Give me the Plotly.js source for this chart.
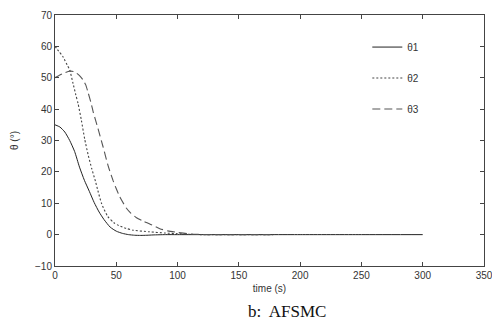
<!DOCTYPE html>
<html>
<head>
<meta charset="utf-8">
<script src="https://cdn.plot.ly/plotly-3.0.1.min.js"></script>
<style>html,body{margin:0;padding:0;background:#fff;}#chart{width:492px;height:320px;}</style>
</head>
<body>
<div id="chart"></div>
<script>
// theta1 (solid)
const t1X = [0, 4, 8, 12, 16, 20, 24, 28, 32, 36, 40, 45, 50, 55, 60, 65, 70, 75, 80, 90, 100, 150, 200, 250, 300];
const t1Y = [35, 34.3, 32.7, 30, 26.5, 21.5, 17.3, 13.8, 10.2, 7.2, 4.8, 2.4, 1.1, 0.4, 0, -0.2, -0.25, -0.2, -0.1, 0, 0, 0, 0, 0, 0];
// theta2 (dotted)
const t2X = [0, 3, 6.5, 10, 12, 14.7, 17, 18.8, 21.5, 24.2, 27, 30, 33, 35, 38, 43, 48, 52, 58, 64, 77, 90, 100, 110, 120, 178];
const t2Y = [60, 58.5, 56.7, 54, 52.5, 48.2, 44.5, 41.8, 36.5, 30.5, 25.5, 21, 17, 14, 9.9, 5.8, 3.8, 2.9, 2, 1.4, 0.9, 0.5, 0.3, 0.1, 0, 0];
// theta3 (dashed)
const t3X = [0, 4, 8, 12, 15, 17.4, 20, 22.9, 25, 27, 29.7, 31.1, 35.1, 39.2, 43.3, 47.4, 50, 52.8, 58.3, 62, 66.5, 72, 77.3, 85.5, 92, 100, 108, 115, 125, 178];
const t3Y = [50, 50.9, 51.6, 52.1, 52, 51.5, 50.7, 49.3, 47.8, 45.3, 41.5, 39.2, 33.8, 28, 22, 17.2, 14.6, 12.1, 8.4, 6.8, 5.4, 4.3, 3.4, 1.9, 1.2, 0.7, 0.3, 0.1, 0, 0];
const names = ['θ1', 'θ2', 'θ3'];
const xTicks = [0, 50, 100, 150, 200, 250, 300, 350];
const yTicks = [-10, 0, 10, 20, 30, 40, 50, 60, 70];

const traces = [
  {x: t1X, y: t1Y, name: names[0], legendgroup: 'a', mode: 'lines', line: {color: '#222', width: 1, dash: 'solid', shape: 'spline', smoothing: 0.6}},
  {x: t2X, y: t2Y, name: names[1], legendgroup: 'b', mode: 'lines', line: {color: '#444', width: 1.1, dash: '2px,2px', shape: 'spline', smoothing: 0.6}},
  {x: t3X, y: t3Y, name: names[2], legendgroup: 'c', mode: 'lines', line: {color: '#555', width: 1.1, dash: '8px,4px', shape: 'spline', smoothing: 0.6}}
];

const axisCommon = {
  showline: true, linecolor: '#444', linewidth: 1, mirror: 'ticks',
  ticks: 'inside', ticklen: 4, tickcolor: '#444', tickwidth: 1,
  showgrid: false, zeroline: false, ticklabeloverflow: 'allow',
  tickfont: {family: 'Liberation Sans, Arial, sans-serif', size: 10, color: '#333'}
};

const layout = {
  width: 492, height: 320,
  margin: {l: 55, r: 8, t: 15, b: 54},
  paper_bgcolor: '#fff', plot_bgcolor: '#fff',
  showlegend: true,
  legend: {x: 0.728, y: 0.93, xanchor: 'left', yanchor: 'top', bgcolor: 'rgba(0,0,0,0)',
           itemwidth: 30, tracegroupgap: 12,
           font: {family: 'Liberation Sans, Arial, sans-serif', size: 10, color: '#333'}},
  xaxis: Object.assign({}, axisCommon, {range: [0, 350], tickvals: xTicks,
          title: {text: 'time (s)', standoff: 4, font: {family: 'Liberation Sans, Arial, sans-serif', size: 10, color: '#333'}}}),
  yaxis: Object.assign({}, axisCommon, {range: [-10, 70], tickvals: yTicks,
          title: {text: 'θ (°)', standoff: 14, font: {family: 'Liberation Sans, Arial, sans-serif', size: 10, color: '#333'}}}),
  annotations: [{
    text: 'b:  AFSMC', xref: 'paper', yref: 'paper', x: 0.54, y: -0.18, xanchor: 'center', yanchor: 'middle',
    showarrow: false, font: {family: 'Liberation Serif, Times New Roman, serif', size: 17, color: '#111'}
  }]
};

Plotly.newPlot('chart', traces, layout, {displayModeBar: false, staticPlot: true});
</script>
</body>
</html>
